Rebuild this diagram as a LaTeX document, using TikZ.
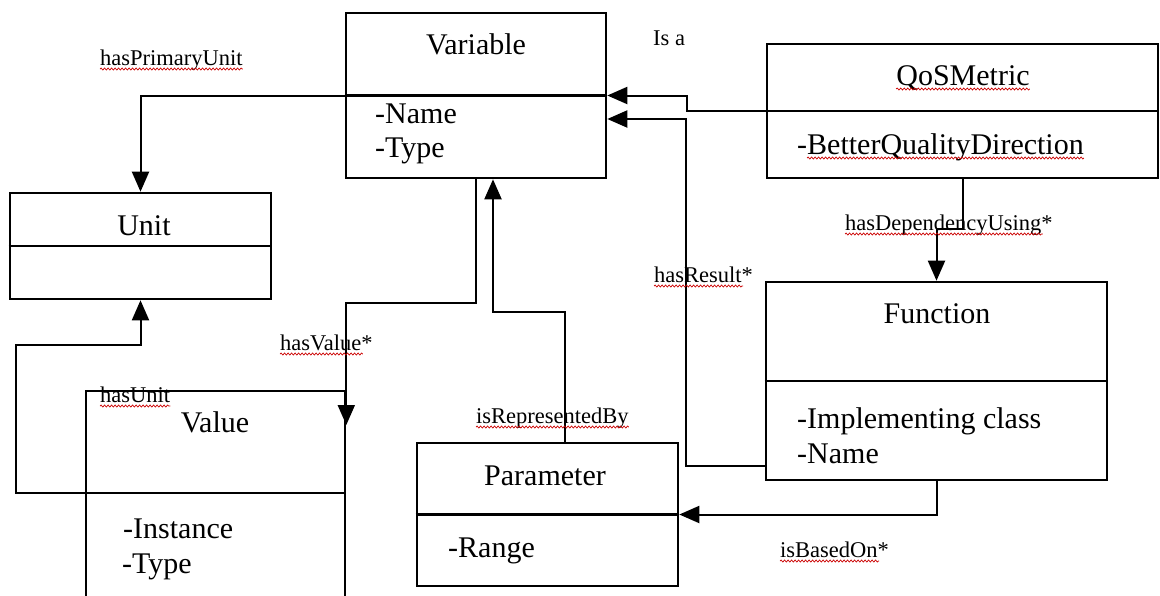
\documentclass[tikz,border=0pt]{standalone}
\usepackage{fontspec}
\setmainfont{Liberation Serif}
\usetikzlibrary{arrows.meta,decorations.pathmorphing}

\tikzset{
  classbox/.style={draw, line width=2.6pt, inner sep=0pt, rectangle},
  divider/.style={line width=2.6pt},
  conn/.style={line width=2pt},
  tip/.style={-{Triangle[length=20pt,width=17pt]}},
  title/.style={font=\fontsize{30}{30}\selectfont, inner sep=0pt, anchor=base},
  attr/.style={font=\fontsize{30}{30}\selectfont, inner sep=0pt, anchor=base west},
  lbl/.style={font=\fontsize{22.5}{22.5}\selectfont, inner sep=0pt, anchor=base west},
  squiggle/.style={draw=red!80!black, line width=0.7pt, decorate,
    decoration={snake, amplitude=1pt, segment length=3.5pt}},
}
% red wavy underline below a text node: #1 node, #2 left trim, #3 right trim
\newcommand\squig[3]{\draw[squiggle] ([xshift=#2, yshift=-4pt]#1.base west) -- ([xshift=-#3, yshift=-4pt]#1.base east);}

\begin{document}
\begin{tikzpicture}[x=1pt, y=-1pt]
\useasboundingbox (0,0) rectangle (1160,595);
\fill[white] (0,0) rectangle (1160,595);
\clip (0,0) rectangle (1160,595);

% class boxes
\node[classbox, minimum width=260pt, minimum height=165pt] (var) at (476,95.5) {};
\node[classbox, minimum width=261pt, minimum height=106pt] (unit) at (140.5,246) {};
\node[classbox, minimum width=259pt, minimum height=229pt] (val) at (215.5,505.5) {};
\node[classbox, minimum width=261pt, minimum height=143pt] (par) at (547.5,514.5) {};
\node[classbox, minimum width=341pt, minimum height=198pt] (fun) at (936.5,381) {};
\node[classbox, minimum width=391pt, minimum height=134pt] (qos) at (962.5,111) {};

% compartment dividers
\draw[divider] (var.west) -- (var.east);
\draw[divider] (unit.west) -- (unit.east);
\coordinate (valdiv) at (val.west |- 0,493);
\draw[divider] (valdiv) -- (val.east |- 0,493);
\draw[divider] (par.west) -- (par.east);
\draw[divider] (fun.west) -- (fun.east);
\draw[divider] (qos.west) -- (qos.east);

% associations
\draw[conn,tip] (var.west) -| (unit.north);
\draw[conn,tip] (qos.west) -- (687,111) |- (var.east);
\draw[conn,tip] (fun.west |- 0,466) -| (686,119) -- (var.east |- 0,119);
\draw[conn,tip] (qos.south) -- ++(0,50) -| (fun.north);
\coordinate (valtip) at (val.east |- 0,425);
\draw[conn,tip] (var.south) |- (valtip |- 0,303) -- (valtip);
\draw[conn,tip] (par.north -| 565,0) |- (493,312) -- (var.south -| 493,0);
\draw[conn,tip] (fun.south) |- (par.east);
\draw[conn,tip] (valdiv) -- (16,493) -- (16,345) -| (unit.south);

% class names and attributes
\node[title] (varT) at (476,54) {Variable};
\node[attr] (varA1) at (375,123) {-Name};
\node[attr] (varA2) at (375,157) {-Type};
\node[title] (qosT) at (963,85) {QoSMetric};
\node[attr] (qosA) at (797,154) {-BetterQualityDirection};
\node[title] (unitT) at (144,235) {Unit};
\node[title] (valT) at (215,432) {Value};
\node[attr] (valA1) at (123,538) {-Instance};
\node[attr] (valA2) at (122,573) {-Type};
\node[title] (funT) at (937,323) {Function};
\node[attr] (funA1) at (797,428) {-Implementing class};
\node[attr] (funA2) at (797,463) {-Name};
\node[title] (parT) at (545,485) {Parameter};
\node[attr] (parA) at (448,557) {-Range};

% association labels
\node[lbl] (lPrim) at (100,65) {hasPrimaryUnit};
\node[lbl] (lIsa) at (653,45) {Is a};
\node[lbl] (lVal) at (280,350) {hasValue*};
\node[lbl] (lUnit) at (100,402) {hasUnit};
\node[lbl] (lRep) at (476,423) {isRepresentedBy};
\node[lbl] (lRes) at (654,282) {hasResult*};
\node[lbl] (lDep) at (845,230) {hasDependencyUsing*};
\node[lbl] (lBase) at (780,557) {isBasedOn*};

% spell-check underlines
\squig{qosT}{0pt}{0pt}
\squig{qosA}{10pt}{0pt}
\squig{lPrim}{0pt}{0pt}
\squig{lVal}{0pt}{10pt}
\squig{lUnit}{0pt}{0pt}
\squig{lRep}{0pt}{0pt}
\squig{lRes}{0pt}{10pt}
\squig{lDep}{0pt}{10pt}
\squig{lBase}{0pt}{10pt}
\end{tikzpicture}
\end{document}
